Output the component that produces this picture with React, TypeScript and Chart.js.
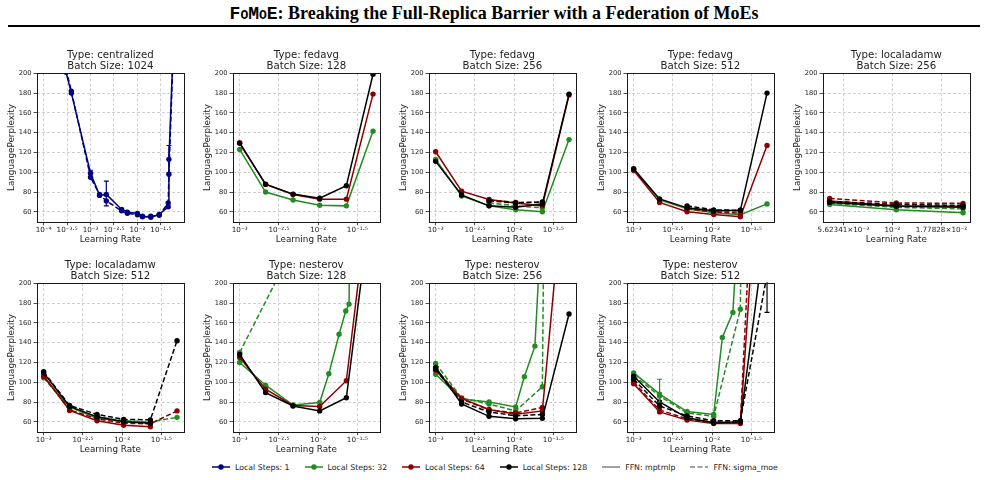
import React, { useEffect, useRef } from 'react';
import { Chart, registerables } from 'chart.js';

Chart.register(...registerables);

const FONT = "'DejaVu Sans', 'Liberation Sans', sans-serif";
const TEXT = '#222222';

const NAVY = '#000080';
const GREEN = '#228b22';
const RED = '#8b0000';
const BLACK = '#000000';
const STEP_COLOR: Record<number, string> = { 1: NAVY, 32: GREEN, 64: RED, 128: BLACK };

// ---------- learning-rate grids ----------
const LR_STD = [0.001, 0.00214, 0.00479, 0.01047, 0.02291, 0.05012];
const LR_STD_5 = [0.001, 0.00214, 0.00479, 0.01047, 0.02291];
const LR_MID = [0.00479, 0.01047, 0.02291];
const LR_CENTRAL = [0.0001, 0.0003, 0.00039, 0.001, 0.00156, 0.00217, 0.00461, 0.0061, 0.01, 0.0128, 0.0193, 0.0291, 0.0454, 0.047, 0.07];
const LR_NEST128_G = [0.001, 0.00214, 0.00479, 0.01047, 0.0137, 0.0185, 0.0225, 0.0248, 0.05012];
const LR_NEST128_G_SIGMA = [0.001, 0.00479, 0.01047];
const LR_NEST_G = [0.001, 0.00214, 0.00479, 0.01047, 0.0135, 0.0184, 0.02291];

// ---------- perplexities ----------
// centralized, batch 1024
const CEN1024_S1_MLP = [420, 201, 180, 99, 76.6, 77.6, 62.4, 59.7, 58.3, 55.6, 54.5, 57.4, 65, 113, 330];
const CEN1024_S1_MLP_ERR = [null, null, null, [95, 102], null, [66, 91], null, null, null, null, null, null, null, [99.5, 127], null];
const CEN1024_S1_SIG = [430, 204, 182, 95, 77.5, 71, 61, 58.5, 57, 55, 55.5, 56.5, 69, 98, 330];

// fedavg, batch 128
const FED128_S32_MLP = [123, 80, 72, 66.7, 66, 141.6];
const FED128_S64_MLP = [129.8, 87.7, 77.5, 72.8, 72.8, 179];
const FED128_S128_MLP = [129.2, 88, 77.9, 73.8, 86.3, 199];

// fedavg, batch 256
const FED256_S32_MLP = [113, 76, 66, 62, 60, 133];
const FED256_S64_MLP = [120.7, 80.9, 72.5, 69, 66, 178];
const FED256_S128_MLP = [111, 77, 66, 64.5, 68, 179];
const FED256_S32_SIG = [69, 66, 64];
const FED256_S64_SIG = [72, 69.5, 69.5];
const FED256_S128_SIG = [71, 69, 70];

// fedavg, batch 512
const FED512_S32_MLP = [103, 72, 63, 59, 57, 68];
const FED512_S64_MLP = [101.8, 69.5, 60, 57.3, 55, 127];
const FED512_S128_MLP = [103.5, 73, 64, 61, 61.5, 180];
const FED512_S32_SIG = [64, 61, 60];
const FED512_S64_SIG = [63, 60, 58.5];
const FED512_S128_SIG = [66, 62, 61.5];

// localadamw, batch 256
const LAW256_S32_MLP = [67.5, 62, 59];
const LAW256_S64_MLP = [71, 66, 65.5];
const LAW256_S128_MLP = [69.5, 65.5, 64.5];
const LAW256_S32_SIG = [68.5, 64.5, 63];
const LAW256_S64_SIG = [73.5, 69, 68.5];
const LAW256_S128_SIG = [70.5, 67.5, 66.5];

// localadamw, batch 512
const LAW512_S32_MLP = [105, 75, 63.5, 60.5, 59.5];
const LAW512_S64_MLP = [106.5, 71.5, 61, 56.5, 55];
const LAW512_S128_MLP = [109.5, 75.5, 65, 60, 58.5];
const LAW512_S32_SIG = [104.5, 74.5, 65, 61, 60, 64.5];
const LAW512_S64_SIG = [106, 72, 63, 58.5, 58, 71];
const LAW512_S128_SIG = [110.6, 76.5, 67.5, 62.5, 62, 142];

// nesterov, batch 128
const NES128_S32_MLP = [120, 97, 77, 79.5, 108.5, 148.5, 172, 179, 3000];
const NES128_S64_MLP = [125, 93, 76.5, 75.5, 101.5, 325];
const NES128_S128_MLP = [128, 89.5, 76, 71, 84.3, 297];
const NES128_S32_SIG = [130, 236, 400];

// nesterov, batch 256
const NES256_S32_MLP = [108, 83, 80, 75, 105.5, 136.5, 280];
const NES256_S64_MLP = [112, 83.6, 72.4, 67.7, 71, 360];
const NES256_S128_MLP = [115, 78, 65.5, 63, 63.5, 169];
const NES256_S32_SIG = [119, 84, 78, 71, 95.4, 3000];
const NES256_S64_SIG = [114, 83, 72, 69, 74.5];
const NES256_S128_SIG = [113, 80, 70, 66, 67.5];

// nesterov, batch 512
const NES512_S32_MLP = [109.5, 88, 70.4, 67.4, 145.3, 170.6, 300];
const NES512_S64_MLP = [98.4, 70, 61.7, 58.3, 58.3, 460];
const NES512_S128_MLP = [106, 80, 64, 59, 60, 267];
const NES512_S32_SIG = [107, 86, 69, 65.5, 173.7, 3000];
const NES512_S32_SIG_ERR = [null, [80, 103], null, null, null, null];
const NES512_S64_SIG = [100, 72, 63, 59.5, 59.5, 600];
const NES512_S128_SIG = [103, 76, 66, 61, 61, 209];
const NES512_S128_SIG_ERR = [null, null, null, null, null, [170.6, 260]];

const Y_TICKS = [60, 80, 100, 120, 140, 160, 180, 200];

type Series = { steps: number; ffn: 'mptmlp' | 'sigma_moe'; lr: number[]; ppl: number[]; err?: (number[] | null)[] };
type PanelDef = { type: string; batch: number; series: Series[] };

const PANELS: PanelDef[] = [
  { type: 'centralized', batch: 1024, series: [
    { steps: 1, ffn: 'mptmlp', lr: LR_CENTRAL, ppl: CEN1024_S1_MLP, err: CEN1024_S1_MLP_ERR },
    { steps: 1, ffn: 'sigma_moe', lr: LR_CENTRAL, ppl: CEN1024_S1_SIG },
  ] },
  { type: 'fedavg', batch: 128, series: [
    { steps: 32, ffn: 'mptmlp', lr: LR_STD, ppl: FED128_S32_MLP },
    { steps: 64, ffn: 'mptmlp', lr: LR_STD, ppl: FED128_S64_MLP },
    { steps: 128, ffn: 'mptmlp', lr: LR_STD, ppl: FED128_S128_MLP },
  ] },
  { type: 'fedavg', batch: 256, series: [
    { steps: 32, ffn: 'mptmlp', lr: LR_STD, ppl: FED256_S32_MLP },
    { steps: 32, ffn: 'sigma_moe', lr: LR_MID, ppl: FED256_S32_SIG },
    { steps: 64, ffn: 'mptmlp', lr: LR_STD, ppl: FED256_S64_MLP },
    { steps: 64, ffn: 'sigma_moe', lr: LR_MID, ppl: FED256_S64_SIG },
    { steps: 128, ffn: 'mptmlp', lr: LR_STD, ppl: FED256_S128_MLP },
    { steps: 128, ffn: 'sigma_moe', lr: LR_MID, ppl: FED256_S128_SIG },
  ] },
  { type: 'fedavg', batch: 512, series: [
    { steps: 32, ffn: 'mptmlp', lr: LR_STD, ppl: FED512_S32_MLP },
    { steps: 32, ffn: 'sigma_moe', lr: LR_MID, ppl: FED512_S32_SIG },
    { steps: 64, ffn: 'mptmlp', lr: LR_STD, ppl: FED512_S64_MLP },
    { steps: 64, ffn: 'sigma_moe', lr: LR_MID, ppl: FED512_S64_SIG },
    { steps: 128, ffn: 'mptmlp', lr: LR_STD, ppl: FED512_S128_MLP },
    { steps: 128, ffn: 'sigma_moe', lr: LR_MID, ppl: FED512_S128_SIG },
  ] },
  { type: 'localadamw', batch: 256, series: [
    { steps: 32, ffn: 'mptmlp', lr: LR_MID, ppl: LAW256_S32_MLP },
    { steps: 32, ffn: 'sigma_moe', lr: LR_MID, ppl: LAW256_S32_SIG },
    { steps: 64, ffn: 'mptmlp', lr: LR_MID, ppl: LAW256_S64_MLP },
    { steps: 64, ffn: 'sigma_moe', lr: LR_MID, ppl: LAW256_S64_SIG },
    { steps: 128, ffn: 'mptmlp', lr: LR_MID, ppl: LAW256_S128_MLP },
    { steps: 128, ffn: 'sigma_moe', lr: LR_MID, ppl: LAW256_S128_SIG },
  ] },
  { type: 'localadamw', batch: 512, series: [
    { steps: 32, ffn: 'mptmlp', lr: LR_STD_5, ppl: LAW512_S32_MLP },
    { steps: 32, ffn: 'sigma_moe', lr: LR_STD, ppl: LAW512_S32_SIG },
    { steps: 64, ffn: 'mptmlp', lr: LR_STD_5, ppl: LAW512_S64_MLP },
    { steps: 64, ffn: 'sigma_moe', lr: LR_STD, ppl: LAW512_S64_SIG },
    { steps: 128, ffn: 'mptmlp', lr: LR_STD_5, ppl: LAW512_S128_MLP },
    { steps: 128, ffn: 'sigma_moe', lr: LR_STD, ppl: LAW512_S128_SIG },
  ] },
  { type: 'nesterov', batch: 128, series: [
    { steps: 32, ffn: 'mptmlp', lr: LR_NEST128_G, ppl: NES128_S32_MLP },
    { steps: 32, ffn: 'sigma_moe', lr: LR_NEST128_G_SIGMA, ppl: NES128_S32_SIG },
    { steps: 64, ffn: 'mptmlp', lr: LR_STD, ppl: NES128_S64_MLP },
    { steps: 128, ffn: 'mptmlp', lr: LR_STD, ppl: NES128_S128_MLP },
  ] },
  { type: 'nesterov', batch: 256, series: [
    { steps: 32, ffn: 'mptmlp', lr: LR_NEST_G, ppl: NES256_S32_MLP },
    { steps: 32, ffn: 'sigma_moe', lr: LR_STD, ppl: NES256_S32_SIG },
    { steps: 64, ffn: 'mptmlp', lr: LR_STD, ppl: NES256_S64_MLP },
    { steps: 64, ffn: 'sigma_moe', lr: LR_STD_5, ppl: NES256_S64_SIG },
    { steps: 128, ffn: 'mptmlp', lr: LR_STD, ppl: NES256_S128_MLP },
    { steps: 128, ffn: 'sigma_moe', lr: LR_STD_5, ppl: NES256_S128_SIG },
  ] },
  { type: 'nesterov', batch: 512, series: [
    { steps: 32, ffn: 'mptmlp', lr: LR_NEST_G, ppl: NES512_S32_MLP },
    { steps: 32, ffn: 'sigma_moe', lr: LR_STD, ppl: NES512_S32_SIG, err: NES512_S32_SIG_ERR },
    { steps: 64, ffn: 'mptmlp', lr: LR_STD, ppl: NES512_S64_MLP },
    { steps: 64, ffn: 'sigma_moe', lr: LR_STD, ppl: NES512_S64_SIG },
    { steps: 128, ffn: 'mptmlp', lr: LR_STD, ppl: NES512_S128_MLP },
    { steps: 128, ffn: 'sigma_moe', lr: LR_STD, ppl: NES512_S128_SIG, err: NES512_S128_SIG_ERR },
  ] },
];

// ---------- layout ----------
const CANVAS_W = 196;
const CANVAS_H = 206;
const COL_LEFT = [0, 196, 392, 590, 786];
const ROW_TOP = [44, 254];
const Y_AXIS_W = 37;
const PAD_TOP = 29.3;
const PAD_RIGHT = 12.3;
const X_AXIS_H = 28.3;

const SUP: Record<string, string> = { '-': '\u207b', '.': '\u00b7', '0': '\u2070', '1': '\u00b9', '2': '\u00b2', '3': '\u00b3', '4': '\u2074', '5': '\u2075', '6': '\u2076', '7': '\u2077', '8': '\u2078', '9': '\u2079' };
const sup = (s: string) => s.split('').map((c) => SUP[c] ?? c).join('');

function formatLogTick(v: number): string {
  const e = Math.round(Math.log10(v) * 4) / 4;
  if (Number.isInteger(e * 2)) return '10' + sup(String(e));
  const base = Math.floor(e);
  const mant = Math.pow(10, e - base);
  return mant.toFixed(5) + '\u00d710' + sup(String(base));
}

const errorBarPlugin = {
  id: 'errorBars',
  afterDatasetsDraw(chart: any) {
    const { ctx, chartArea: a, scales } = chart;
    ctx.save();
    ctx.beginPath();
    ctx.rect(a.left, a.top - 1, a.right - a.left, a.bottom - a.top + 2);
    ctx.clip();
    chart.data.datasets.forEach((ds: any) => {
      if (!ds.yErr) return;
      ds.yErr.forEach((e: number[] | null, i: number) => {
        if (!e) return;
        const x = scales.x.getPixelForValue(ds.data[i].x);
        const y1 = scales.y.getPixelForValue(e[0]);
        const y2 = scales.y.getPixelForValue(e[1]);
        ctx.strokeStyle = ds.borderColor;
        ctx.lineWidth = 1.2;
        ctx.setLineDash([]);
        ctx.beginPath();
        ctx.moveTo(x, y1); ctx.lineTo(x, y2);
        ctx.moveTo(x - 2.5, y1); ctx.lineTo(x + 2.5, y1);
        ctx.moveTo(x - 2.5, y2); ctx.lineTo(x + 2.5, y2);
        ctx.stroke();
      });
    });
    ctx.restore();
  },
};

const decorPlugin = {
  id: 'panelDecor',
  afterDraw(chart: any, _args: any, opts: any) {
    const { ctx, chartArea: a } = chart;
    ctx.save();
    ctx.strokeStyle = '#1a1a1a';
    ctx.lineWidth = 1;
    ctx.setLineDash([]);
    const l = Math.round(a.left) + 0.5, t = Math.round(a.top) + 0.5;
    const r = Math.round(a.right) + 0.5, b = Math.round(a.bottom) + 0.5;
    ctx.strokeRect(l, t, r - l, b - t);
    ctx.fillStyle = TEXT;
    ctx.font = `10.2px ${FONT}`;
    ctx.textAlign = 'center';
    ctx.textBaseline = 'alphabetic';
    const cx = (a.left + a.right) / 2;
    ctx.fillText(opts.line1, cx, 13.7);
    ctx.fillText(opts.line2, cx, 25);
    ctx.restore();
  },
};

function Panel({ panel, left, top }: { panel: PanelDef; left: number; top: number }) {
  const ref = useRef<HTMLCanvasElement>(null);
  useEffect(() => {
    const canvas = ref.current;
    if (!canvas) return;
    const allLr = panel.series.flatMap((s) => s.lr);
    const lo = Math.log10(Math.min(...allLr));
    const hi = Math.log10(Math.max(...allLr));
    const m = (hi - lo) * 0.05;
    const step = hi - lo < 1 ? 0.25 : 0.5;
    const tickExps: number[] = [];
    for (let e = Math.ceil((lo - m) / step) * step; e <= hi + m + 1e-9; e += step) tickExps.push(e);
    const tickVals = tickExps.map((e) => Math.pow(10, e));

    const datasets = panel.series.map((s) => {
      const c = STEP_COLOR[s.steps];
      return {
        label: `Local Steps: ${s.steps} / ${s.ffn}`,
        data: s.lr.map((x, i) => ({ x, y: s.ppl[i] })),
        yErr: s.err,
        borderColor: c,
        backgroundColor: c,
        borderWidth: 1.5,
        borderDash: s.ffn === 'sigma_moe' ? [5, 2.5] : [],
        pointRadius: 2.7,
        pointBorderWidth: 0,
        pointHoverRadius: 2.7,
        pointBackgroundColor: c,
        tension: 0,
        fill: false,
      };
    }).reverse();

    const chart = new Chart(canvas, {
      type: 'line',
      data: { datasets } as any,
      options: {
        animation: false,
        responsive: false,
        devicePixelRatio: 1,
        events: [],
        layout: { padding: { left: 0, right: PAD_RIGHT, top: PAD_TOP, bottom: 0 } },
        plugins: {
          legend: { display: false },
          tooltip: { enabled: false },
          title: { display: false },
          panelDecor: { line1: `Type: ${panel.type}`, line2: `Batch Size: ${panel.batch}` },
        } as any,
        scales: {
          x: {
            type: 'logarithmic',
            min: Math.pow(10, lo - m),
            max: Math.pow(10, hi + m),
            bounds: 'data',
            afterBuildTicks: (s: any) => { s.ticks = tickVals.map((v) => ({ value: v })); },
            afterFit: (s: any) => { s.height = X_AXIS_H; },
            ticks: {
              autoSkip: false, maxRotation: 0, minRotation: 0, padding: 1,
              color: TEXT, font: { family: FONT, size: 7.2 },
              callback: (v: any) => formatLogTick(Number(v)),
            },
            grid: { color: '#c4c4c4', lineWidth: 0.8, tickLength: 3.5, tickColor: TEXT, tickWidth: 0.8, tickBorderDash: [] },
            border: { display: false, dash: [3, 2] },
            title: { display: true, text: 'Learning Rate', color: TEXT, font: { family: FONT, size: 8.8 }, padding: { top: 0, bottom: 5.5 } },
          },
          y: {
            type: 'linear',
            min: 50,
            max: 200,
            afterBuildTicks: (s: any) => { s.ticks = Y_TICKS.map((v) => ({ value: v })); },
            afterFit: (s: any) => { s.width = Y_AXIS_W; },
            ticks: { padding: 2, color: TEXT, font: { family: FONT, size: 6.7 }, callback: (v: any) => String(v) },
            grid: { color: '#c4c4c4', lineWidth: 0.8, tickLength: 3.5, tickColor: TEXT, tickWidth: 0.8, tickBorderDash: [] },
            border: { display: false, dash: [3, 2] },
            title: { display: true, text: 'LanguagePerplexity', color: TEXT, font: { family: FONT, size: 8.8 }, padding: { top: 6.2, bottom: 0 } },
          },
        } as any,
      },
      plugins: [errorBarPlugin, decorPlugin],
    });
    return () => chart.destroy();
  }, [panel]);
  return (
    <canvas
      ref={ref}
      width={CANVAS_W}
      height={CANVAS_H}
      style={{ position: 'absolute', left, top, width: CANVAS_W, height: CANVAS_H }}
    />
  );
}

const LEGEND_ITEMS = [
  { label: 'Local Steps: 1', color: NAVY, dashed: false, marker: true },
  { label: 'Local Steps: 32', color: GREEN, dashed: false, marker: true },
  { label: 'Local Steps: 64', color: RED, dashed: false, marker: true },
  { label: 'Local Steps: 128', color: BLACK, dashed: false, marker: true },
  { label: 'FFN: mptmlp', color: '#808080', dashed: false, marker: false },
  { label: 'FFN: sigma_moe', color: '#808080', dashed: true, marker: false },
];

function Legend() {
  return (
    <div style={{ position: 'absolute', left: 212, top: 461, height: 12, display: 'flex', alignItems: 'center', gap: 15, fontFamily: FONT, fontSize: 7.8, color: TEXT, whiteSpace: 'nowrap' }}>
      {LEGEND_ITEMS.map((it) => (
        <div key={it.label} style={{ display: 'flex', alignItems: 'center', gap: 5 }}>
          <svg width={18} height={8} style={{ display: 'block' }}>
            <line x1={0} y1={4} x2={18} y2={4} stroke={it.color} strokeWidth={1.5} strokeDasharray={it.dashed ? '5 2.5' : undefined} />
            {it.marker && <circle cx={9} cy={4} r={2.7} fill={it.color} />}
          </svg>
          <span>{it.label}</span>
        </div>
      ))}
    </div>
  );
}

export default function App() {
  return (
    <div style={{ position: 'absolute', left: 0, top: 0, width: 988, height: 480, background: '#ffffff', overflow: 'hidden' }}>
      <div style={{ position: 'absolute', left: 0, top: 3, width: 988, textAlign: 'center', fontFamily: "'Liberation Serif', 'Times New Roman', serif", fontWeight: 'bold', fontSize: 18, lineHeight: '20px', color: '#000' }}>
        <span style={{ fontFamily: "'Liberation Mono', 'DejaVu Sans Mono', monospace", fontVariant: 'small-caps' }}>FoMoE</span>: Breaking the Full-Replica Barrier with a Federation of MoEs
      </div>
      <div style={{ position: 'absolute', left: 8, top: 25, width: 972, height: 2, background: '#000' }} />
      {PANELS.map((p, i) => (
        <Panel key={i} panel={p} left={COL_LEFT[i % 5]} top={ROW_TOP[Math.floor(i / 5)]} />
      ))}
      <Legend />
    </div>
  );
}
